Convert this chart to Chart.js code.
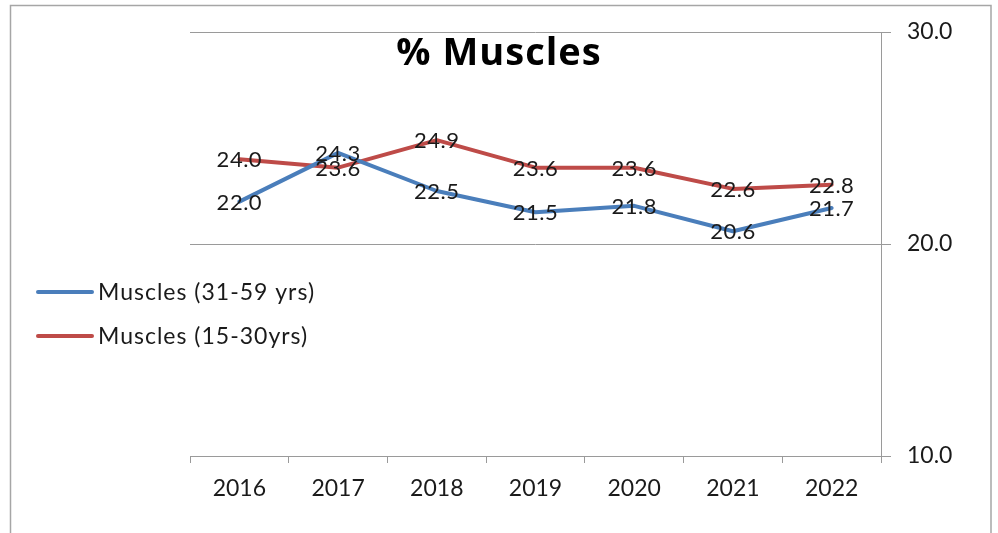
<!DOCTYPE html>
<html>
<head>
<meta charset="utf-8">
<script src="https://cdn.jsdelivr.net/npm/chart.js@4.4.1/dist/chart.umd.min.js"></script>
<style>
html,body{margin:0;padding:0;background:#fff;}
#wrap{width:998px;height:533px;position:relative;}
</style>
</head>
<body>
<div id="wrap"><canvas id="c" width="998" height="533"></canvas></div>
<script>
const title = "% Muscles";
const years = ["2016","2017","2018","2019","2020","2021","2022"];
const series1Name = "Muscles (31-59 yrs)";
const series1 = [22.0, 24.3, 22.5, 21.5, 21.8, 20.6, 21.7];
const series2Name = "Muscles (15-30yrs)";
const series2 = [24.0, 23.6, 24.9, 23.6, 23.6, 22.6, 22.8];
const yTicks = [10, 20, 30];

const FONT = "Lato, 'Liberation Sans', sans-serif";
const TITLE_FONT = "'Open Sans', Lato, sans-serif";
const BLUE = "#4a7ebb";
const RED = "#be4b48";
const GRID = "#9a9a9a";

const framePlugin = {
  id: 'frame',
  beforeDraw(chart) {
    const ctx = chart.ctx;
    ctx.save();
    ctx.fillStyle = '#fff';
    ctx.fillRect(0, 0, chart.width, chart.height);
    ctx.strokeStyle = '#a6a6a6';
    ctx.lineWidth = 1.5;
    ctx.strokeRect(10.5, 5.5, 980.5, 600);
    ctx.restore();
  },
  afterDraw(chart) {
    const ctx = chart.ctx;
    ctx.save();
    // title
    ctx.fillStyle = '#000';
    ctx.font = "bold 38px " + TITLE_FONT;
    ctx.letterSpacing = '1px';
    ctx.textAlign = 'center';
    ctx.textBaseline = 'middle';
    ctx.fillText(title, 499, 54);
    // data labels
    ctx.font = "22px " + FONT;
    ctx.letterSpacing = '0.5px';
    ctx.fillStyle = '#1a1a1a';
    chart.data.datasets.forEach((ds, i) => {
      const meta = chart.getDatasetMeta(i);
      meta.data.forEach((pt, j) => {
        ctx.fillText(ds.data[j].toFixed(1), pt.x, pt.y + 1);
      });
    });
    // legend
    const items = [[series1Name, BLUE, 292], [series2Name, RED, 336]];
    ctx.font = "23px " + FONT;
    ctx.letterSpacing = '1px';
    ctx.textAlign = 'left';
    ctx.lineCap = 'round';
    items.forEach(([name, col, y]) => {
      ctx.strokeStyle = col;
      ctx.lineWidth = 4;
      ctx.beginPath();
      ctx.moveTo(38, y);
      ctx.lineTo(92, y);
      ctx.stroke();
      ctx.fillStyle = '#1a1a1a';
      ctx.fillText(name, 98, y + 1);
    });
    ctx.restore();
  }
};

new Chart(document.getElementById('c'), {
  type: 'line',
  data: {
    labels: years,
    datasets: [
      { label: series1Name, data: series1, borderColor: BLUE, backgroundColor: BLUE, borderWidth: 4, pointRadius: 0, tension: 0, borderCapStyle: 'round', borderJoinStyle: 'round' },
      { label: series2Name, data: series2, borderColor: RED, backgroundColor: RED, borderWidth: 4, pointRadius: 0, tension: 0, borderCapStyle: 'round', borderJoinStyle: 'round' }
    ]
  },
  options: {
    responsive: false,
    animation: false,
    devicePixelRatio: 1,
    layout: { padding: { left: 190, top: 32, right: 0, bottom: 0 } },
    plugins: { legend: { display: false }, title: { display: false }, tooltip: { enabled: false } },
    scales: {
      x: {
        offset: true,
        grid: { offset: true, drawOnChartArea: false, drawTicks: true, tickLength: 7, color: GRID, lineWidth: 1 },
        border: { display: true, color: GRID, width: 1 },
        ticks: { color: '#1a1a1a', font: { family: FONT, size: 23 }, padding: 12, maxRotation: 0 },
        afterFit(scale) { scale.height = 77; }
      },
      y: {
        position: 'right',
        min: 10, max: 30,
        afterBuildTicks(scale) { scale.ticks = yTicks.map(v => ({ value: v })); },
        grid: { color: GRID, lineWidth: 1, tickLength: 10, drawTicks: true },
        border: { display: true, color: GRID, width: 1 },
        ticks: { color: '#1a1a1a', font: { family: FONT, size: 23 }, padding: 16, callback: v => Number(v).toFixed(1) },
        afterFit(scale) { scale.width = 117; }
      }
    }
  },
  plugins: [framePlugin]
});
</script>
</body>
</html>
